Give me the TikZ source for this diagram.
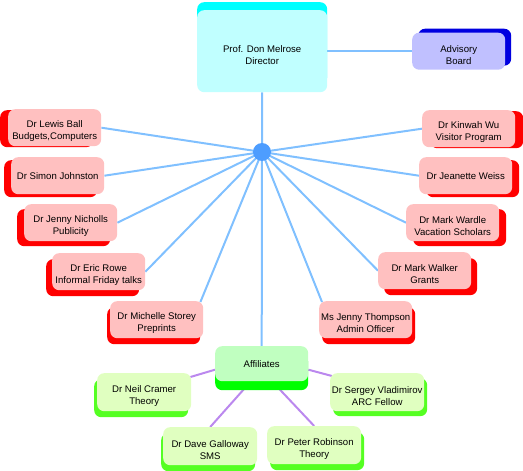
\documentclass[tikz,border=0pt]{standalone}
\usepackage{fontspec}
\setmainfont{Liberation Sans}
\usetikzlibrary{shadows,backgrounds,calc}
\definecolor{cyanface}{HTML}{C0FFFF}
\definecolor{cyansh}{HTML}{00FFFF}
\definecolor{advface}{HTML}{C0C0FF}
\definecolor{advsh}{HTML}{0000E0}
\definecolor{redface}{HTML}{FFC0C0}
\definecolor{redsh}{HTML}{FF0000}
\definecolor{affface}{HTML}{C0FFC0}
\definecolor{affsh}{HTML}{00FF00}
\definecolor{memface}{HTML}{E0FFC0}
\definecolor{memsh}{HTML}{55FF22}
\definecolor{spokecol}{HTML}{80C0FF}
\definecolor{hubcol}{HTML}{4D9DFF}
\definecolor{affline}{HTML}{BB88EE}
\newcommand{\boxfont}{\fontsize{9.6}{12}\selectfont}
\newcommand{\lowr}{\rule{0pt}{14pt}}
\tikzset{
  box/.style={rectangle, rounded corners=7pt, minimum width=93pt, minimum height=37pt,
    inner sep=0.5pt, align=center, font=\boxfont, anchor=north west},
  redbox/.style 2 args={box, fill=redface,
    general shadow={fill=redsh, rounded corners=7pt, shadow xshift=#1pt, shadow yshift=#2pt}},
  membox/.style 2 args={box, minimum width=94pt, minimum height=38pt, fill=memface,
    general shadow={fill=memsh, rounded corners=7pt, shadow xshift=#1pt, shadow yshift=#2pt}},
  spoke/.style={draw=spokecol, line width=2pt},
  affspoke/.style={draw=affline, line width=2pt},
}
\begin{document}
\begin{tikzpicture}[x=1pt,y=-1pt]
\useasboundingbox (0,0) rectangle (523,471);
% director and advisory
\node[box, minimum width=130pt, minimum height=82pt, fill=cyanface,
  general shadow={fill=cyansh, rounded corners=7pt, shadow yshift=8pt}]
  (director) at (197,10) {\lowr Prof. Don Melrose\\Director};
\node[box, fill=advface,
  general shadow={fill=advsh, rounded corners=7pt, shadow xshift=6pt, shadow yshift=4pt}]
  (advisory) at (412,32.5) {\lowr Advisory\\Board};
% hub
\node[circle, fill=hubcol, minimum size=18pt, inner sep=0pt] (hub) at (262,152) {};
% left red boxes
\node[redbox={-8}{-1}] (lewis) at (8,109) {\lowr Dr Lewis Ball\\Budgets,Computers};
\node[redbox={-7}{-3}] (simon) at (11,157) {Dr Simon Johnston};
\node[redbox={-7}{-5}] (nicholls) at (24,204) {\lowr Dr Jenny Nicholls\\Publicity};
\node[redbox={-6}{-6}] (rowe) at (52,253) {\lowr Dr Eric Rowe\\Informal Friday talks};
\node[redbox={-3}{-6}] (storey) at (110,301) {\lowr Dr Michelle Storey\\Preprints};
% right red boxes
\node[redbox={8}{-1}] (kinwah) at (422,110) {\lowr Dr Kinwah Wu\\Visitor Program};
\node[redbox={7}{-3}] (weiss) at (419,157) {Dr Jeanette Weiss};
\node[redbox={7}{-5}] (wardle) at (406,204) {\lowr Dr Mark Wardle\\Vacation Scholars};
\node[redbox={6}{-6}] (walker) at (378,252) {\lowr Dr Mark Walker\\Grants};
\node[redbox={3}{-6}] (thompson) at (319,301) {\lowr Ms Jenny Thompson\\Admin Officer};
% affiliates
\node[box, minimum height=35pt, fill=affface,
  general shadow={fill=affsh, rounded corners=7pt, shadow yshift=-9pt}]
  (aff) at (215,346) {Affiliates};
\node[membox={-3}{-6}] (cramer) at (97,373) {\lowr Dr Neil Cramer\\Theory};
\node[membox={3}{-5}] (vlad) at (330,373) {\lowr Dr Sergey Vladimirov\\ARC Fellow};
\node[membox={-2}{-6}] (galloway) at (163,427) {\lowr Dr Dave Galloway\\SMS};
\node[membox={3}{-6}] (robinson) at (267,426) {\lowr Dr Peter Robinson\\Theory};
% connectors
\begin{pgfonlayer}{background}
\draw[spoke] (director.east) -- (director.east -| advisory.west);
\draw[spoke] (hub.center) -- (director.south);
\draw[spoke] (hub.center) -- (aff.north);
\draw[spoke] (hub.center) -- (lewis.east);
\draw[spoke] (hub.center) -- (simon.east);
\draw[spoke] (hub.center) -- (nicholls.east);
\draw[spoke] (hub.center) -- (rowe.east);
\draw[spoke] (hub.center) -- ($(storey.north east)+(-3,1)$);
\draw[spoke] (hub.center) -- (kinwah.west);
\draw[spoke] (hub.center) -- (weiss.west);
\draw[spoke] (hub.center) -- (wardle.west);
\draw[spoke] (hub.center) -- (walker.west);
\draw[spoke] (hub.center) -- ($(thompson.north west)+(3,1)$);
\draw[affspoke] ($(aff.west)+(0,6)$) -- ($(cramer.north east)+(-1,4)$);
\draw[affspoke] ($(aff.east)+(0,6)$) -- ($(vlad.north west)+(2,3)$);
\draw[affspoke] ($(aff.south)+(-18,8)$) -- (galloway.north);
\draw[affspoke] ($(aff.south)+(18,8)$) -- (robinson.north);
\end{pgfonlayer}
\end{tikzpicture}
\end{document}
